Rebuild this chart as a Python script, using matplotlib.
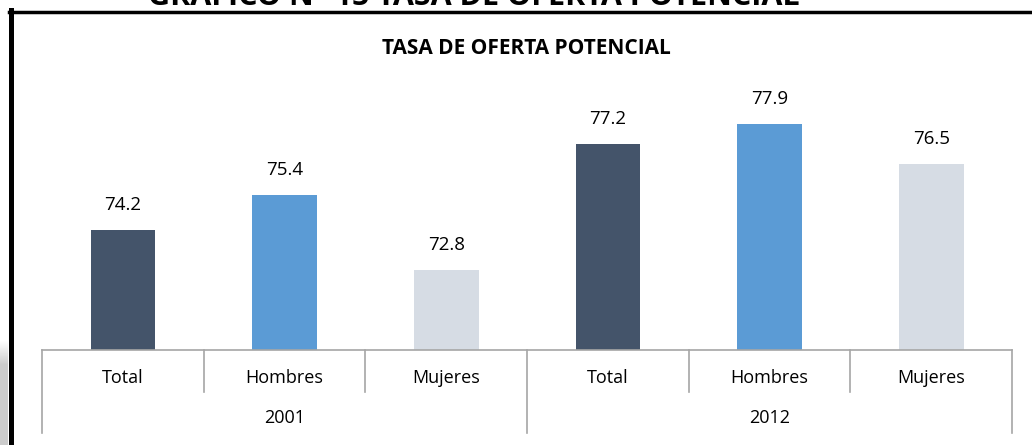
import matplotlib
matplotlib.use("Agg")
import matplotlib.pyplot as plt
import matplotlib.transforms as mtransforms
from matplotlib.lines import Line2D
import numpy as np

plt.rcParams['font.family'] = ['Open Sans', 'DejaVu Sans']

# data
anios = ["2001", "2012"]
categorias = ["Total", "Hombres", "Mujeres", "Total", "Hombres", "Mujeres"]
valores = [74.2, 75.4, 72.8, 77.2, 77.9, 76.5]
colores = ["#44546A", "#5B9BD5", "#D6DCE4", "#44546A", "#5B9BD5", "#D6DCE4"]

W, H = 1032, 445
fig = plt.figure(figsize=(W / 100, H / 100), dpi=100)

# axes placed in pixel terms
left, right, bottom, top = 42, 1012, 350, 63.5
ax = fig.add_axes([left / W, (H - bottom) / H, (right - left) / W, (bottom - top) / H])

x = np.arange(len(valores))
ax.bar(x, valores, width=0.4, color=colores)
for xi, v in zip(x, valores):
    ax.text(xi, v + 0.87, f"{v:.1f}", ha="center", va="center", fontsize=13.5, color="#000000")

ax.set_xlim(-0.5, len(valores) - 0.5)
ax.set_ylim(70, 80)
for s in ["top", "right", "left"]:
    ax.spines[s].set_visible(False)
ax.spines["bottom"].set_color("#A6A6A6")
ax.spines["bottom"].set_linewidth(1.2)
ax.set_xticks([])
ax.set_yticks([])

# eje de categorias en dos niveles
trans = mtransforms.blended_transform_factory(ax.transData, ax.transAxes)
h_ax = bottom - top
y_lab = -(378 - bottom) / h_ax
y_sep1 = -(392 - bottom) / h_ax
y_year = -(418 - bottom) / h_ax
y_sep2 = -(433 - bottom) / h_ax

for xi, c in zip(x, categorias):
    ax.text(xi, y_lab, c, transform=trans, ha="center", va="center", fontsize=13)
for b in np.arange(0.5, len(valores) - 1, 1.0):
    if abs(b - 2.5) < 1e-9:
        continue
    ax.add_line(Line2D([b, b], [0, y_sep1], transform=trans, color="#A6A6A6", lw=1.2, clip_on=False))
for b in [-0.5, 2.5, 5.5]:
    ax.add_line(Line2D([b, b], [0, y_sep2], transform=trans, color="#A6A6A6", lw=1.2, clip_on=False))
for i, a in enumerate(anios):
    ax.text(1 + 3 * i, y_year, a, transform=trans, ha="center", va="center", fontsize=13)

# titulo del grafico
fig.text(526 / W, (H - 49) / H, "TASA DE OFERTA POTENCIAL", ha="center", va="center",
         fontsize=15, fontweight="bold")

# encabezado cortado arriba del marco
fig.text(474 / W, (H - 5) / H, "GRAFICO N° 15 TASA DE OFERTA POTENCIAL", ha="center", va="baseline",
         fontsize=22, fontweight="bold")

# marco
fig.add_artist(Line2D([10.5 / W, 10.5 / W], [0, (H - 10) / H], color="black", lw=3.6))
fig.add_artist(Line2D([9 / W, 1], [(H - 11.5) / H, (H - 11.5) / H], color="black", lw=2.5))

# sombra abajo a la izquierda
sh = fig.add_axes([0, 0, 8 / W, 105 / H])
grad = np.concatenate([np.full(80, 0.80), np.linspace(0.80, 1.0, 25)]).reshape(-1, 1)
sh.imshow(np.repeat(grad, 8, axis=1), cmap="gray", vmin=0, vmax=1, aspect="auto", origin="lower")
sh.axis("off")

fig.savefig("out.png", dpi=100)
